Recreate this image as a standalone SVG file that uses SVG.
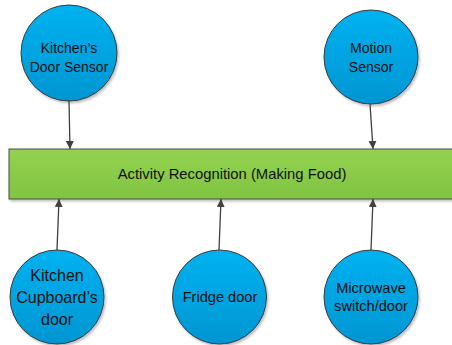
<svg xmlns="http://www.w3.org/2000/svg" width="452" height="345" viewBox="0 0 452 345">
<defs>
<linearGradient id="blue" x1="0" y1="0" x2="0" y2="1">
<stop offset="0" stop-color="#00b2f0"/>
<stop offset="1" stop-color="#0496d2"/>
</linearGradient>
<linearGradient id="green" x1="0" y1="0" x2="0" y2="1">
<stop offset="0" stop-color="#93d250"/>
<stop offset="1" stop-color="#80c440"/>
</linearGradient>
<filter id="sh" x="-20%" y="-20%" width="140%" height="140%">
<feDropShadow dx="1.5" dy="2" stdDeviation="1" flood-color="#000" flood-opacity="0.25"/>
</filter>
<marker id="arr" viewBox="0 0 10 10" refX="10" refY="5" markerWidth="8" markerHeight="8" markerUnits="userSpaceOnUse" orient="auto">
<path d="M0,0 L10,5 L0,10 z" fill="#404040"/>
</marker>
</defs>
<style>
.c{fill:url(#blue);stroke:#3a3a3a;stroke-width:1;filter:url(#sh)}
.r{fill:url(#green);stroke:#4a4a4a;stroke-width:1;filter:url(#sh)}
.t{font-family:"Liberation Sans",Arial,sans-serif;font-size:14px;fill:#111111;text-anchor:middle}
.tb{font-size:16px}
.tm{font-size:14.6px}
.e{stroke:#404040;stroke-width:1.3;fill:none;marker-end:url(#arr)}
</style>
<rect width="452" height="345" fill="#ffffff"/>
<g id="activity">
<rect class="r" x="9" y="149" width="446" height="50"/>
<text class="t" x="232" y="179" style="font-size:14.8px">Activity Recognition (Making Food)</text>
</g>
<g id="kitchen-door">
<circle class="c" cx="69" cy="53" r="48"/>
<text class="t" x="69" y="53">Kitchen’s</text>
<text class="t" x="69" y="72">Door Sensor</text>
</g>
<g id="motion">
<circle class="c" cx="371" cy="57" r="47"/>
<text class="t" x="371" y="53">Motion</text>
<text class="t" x="371" y="72">Sensor</text>
</g>
<g id="cupboard">
<circle class="c" cx="57" cy="297" r="47"/>
<text class="t tb" x="57" y="281">Kitchen</text>
<text class="t tb" x="57" y="303">Cupboard’s</text>
<text class="t tb" x="57" y="325">door</text>
</g>
<g id="fridge">
<circle class="c" cx="219.5" cy="297" r="47"/>
<text class="t tm" x="220" y="302">Fridge door</text>
</g>
<g id="microwave">
<circle class="c" cx="371" cy="297" r="47"/>
<text class="t tm" x="371" y="293">Microwave</text>
<text class="t tm" x="371" y="311">switch/door</text>
</g>
<g id="connectors">
<line class="e" x1="69" y1="101" x2="70" y2="149"/>
<line class="e" x1="370" y1="104" x2="373" y2="149"/>
<line class="e" x1="57" y1="250" x2="59" y2="199"/>
<line class="e" x1="219" y1="250" x2="221" y2="199"/>
<line class="e" x1="371" y1="250" x2="373" y2="199"/>
</g>
</svg>
